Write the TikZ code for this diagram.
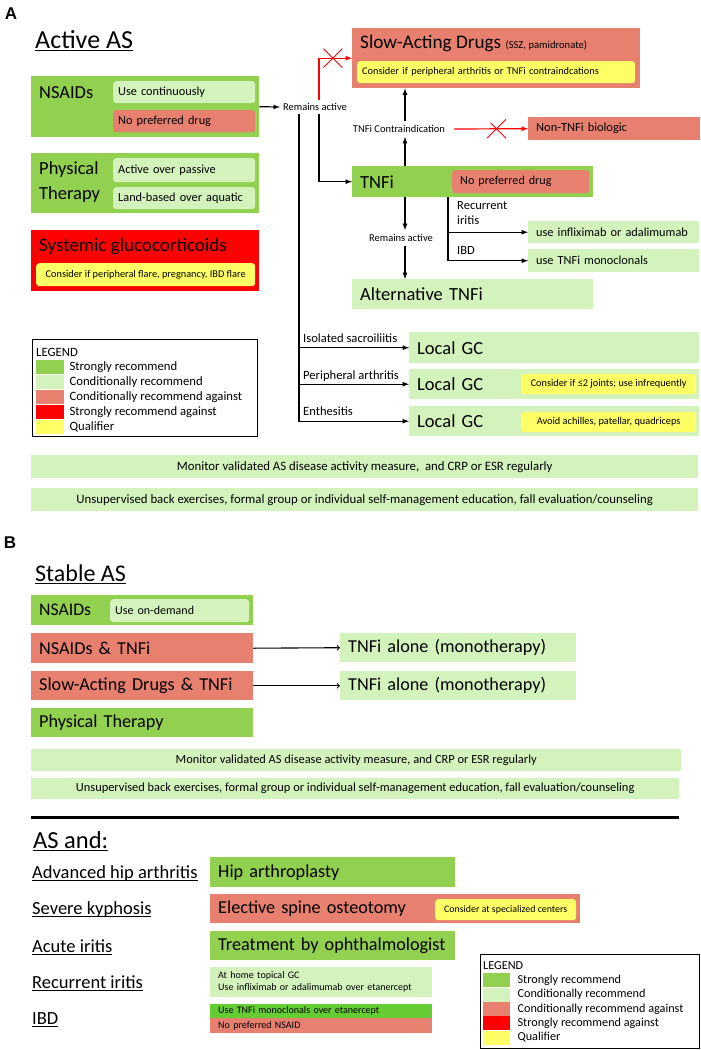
\documentclass[tikz,border=0pt]{standalone}
\usepackage{fontspec}
\usepackage{tikz}
\usetikzlibrary{positioning,shapes.misc}
\setmainfont{Carlito}
\newfontfamily\panelfont{Liberation Sans}
\newcommand{\fs}[2]{\fontsize{#1}{#2}\selectfont}
\newcommand{\uln}[1]{\leavevmode\setbox0\hbox{#1}\rlap{\rule[-3pt]{\wd0}{1.2pt}}\box0}
\definecolor{strongc}{RGB}{146,208,80}
\definecolor{condc}{RGB}{212,243,188}
\definecolor{againstc}{RGB}{232,128,112}
\definecolor{redc}{RGB}{255,0,0}
\definecolor{qualc}{RGB}{255,255,102}
\definecolor{ibdc}{RGB}{102,204,51}
\newcommand{\legendlist}{strongc/Strongly recommend, condc/Conditionally recommend, againstc/Conditionally recommend against, redc/Strongly recommend against, qualc/Qualifier}
\tikzset{
  box/.style={anchor=north west, inner xsep=8pt, inner ysep=0pt, align=left},
  sub/.style={anchor=north west, inner xsep=5pt, inner ysep=0pt, rounded corners=3pt, align=left},
  qual/.style={fill=qualc, rounded corners=3pt, anchor=north west, inner sep=0pt, font=\fs{10.3}{12}},
  strong/.style={fill=strongc},
  cond/.style={fill=condc},
  against/.style={fill=againstc},
  sagainst/.style={fill=redc},
  big/.style={font=\fs{18.5}{22}},
  mid/.style={font=\fs{18.2}{22}},
  small/.style={font=\fs{10.5}{12}},
  panel/.style={font=\panelfont\bfseries\fs{17}{20}, inner sep=0pt},
  arr/.style={-latex, line width=1.2pt},
  noarr/.style={-latex, draw=redc, line width=1.2pt},
  xmark/.style={cross out, draw=redc, line width=0.9pt, minimum width=18pt, minimum height=18pt, inner sep=0pt},
}

\begin{document}
\begin{tikzpicture}[x=1pt,y=-1pt]
\useasboundingbox (0,0) rectangle (701,1050);

% A: active AS
\node[panel] (pA) at (11,14) {A};
\node[anchor=base west, inner sep=0pt, font=\fs{26}{30}] (tA) at (35,48) {\uln{Active AS}};

\node[box, strong, minimum width=228pt, minimum height=61pt] (nsA) at (31,76) {};
\node[anchor=west, inner sep=0pt, font=\fs{18.4}{22}] (nsAt) at (39,93) {NSAIDs};
\node[sub, cond, text width=132pt, minimum height=22pt, font=\fs{12.3}{14}] (ucA) at (113,81) {Use continuously};
\node[sub, against, text width=132pt, minimum height=22pt, font=\fs{12.3}{14}] (npA) at (113,110) {No preferred drug};

\node[box, strong, minimum width=228pt, minimum height=60pt] (ptA) at (31,153) {};
\node[anchor=west, inner sep=0pt, align=left, font=\fs{18.5}{25}] (ptAt) at (39,182) {Physical\\Therapy};
\node[sub, cond, text width=132pt, minimum height=24pt, font=\fs{12.3}{14}] (apA) at (113,158) {Active over passive};
\node[sub, cond, text width=132pt, minimum height=22pt, font=\fs{12.3}{14}] (lbA) at (113,187) {Land-based over aquatic};

\node[box, sagainst, minimum width=228pt, minimum height=61pt] (sgA) at (31,230) {};
\node[anchor=west, inner sep=0pt, font=\fs{19}{22}] (sgAt) at (39,247) {Systemic glucocorticoids};
\node[qual, minimum width=219pt, minimum height=23pt] (sgAq) at (36,263) {Consider if peripheral flare, pregnancy, IBD flare};

\node[small, inner sep=3pt] (raA) at (315,107) {Remains active};
\draw[arr] (nsA.east) -- (raA.west);

\node[box, against, minimum width=288pt, minimum height=60pt] (sdA) at (352,28) {};
\node[anchor=west, inner sep=0pt, font=\fs{19.2}{23}] (sdAt) at (360,43) {Slow-Acting Drugs {\fs{10.6}{12}(SSZ, pamidronate)}};
\node[qual, inner xsep=5pt, text width=268pt, minimum height=22pt, align=left] (sdAq) at (357,61) {Consider if peripheral arthritis or TNFi contraindcations};

\node[box, strong, text width=225pt, minimum height=31pt, big] (tnA) at (352,166) {TNFi};
\node[sub, against, inner xsep=8pt, text width=121pt, minimum height=23pt, font=\fs{12.1}{14}] (tnAp) at (452,170) {No preferred drug};

\draw[noarr] ([xshift=4pt]raA.north) |- node[xmark, pos=0.71] (xA1) {} (sdA.west);
\draw[arr] ([xshift=4pt]raA.south) |- (tnA.west);

\node[small, inner sep=4pt] (ciA) at (399,129) {TNFi Contraindication};
\coordinate (tx) at (405,129);
\draw[arr] (tnA.north -| tx) -- (ciA.south -| tx);
\draw[arr] (ciA.north -| tx) -- (sdA.south -| tx);

\node[box, against, text width=156pt, minimum height=23pt, font=\fs{12.4}{15}] (ntA) at (528,117) {Non-TNFi biologic};
\draw[noarr, shorten <=5pt] (ciA.east) -- node[xmark, pos=0.6] (xA2) {} (ntA.west);

\node[small, inner sep=4pt] (raA2) at (401,238) {Remains active};
\node[box, cond, text width=225pt, minimum height=30pt, big] (alA) at (352,279) {Alternative TNFi};
\draw[arr] (tnA.south -| tx) -- (raA2.north -| tx);
\draw[arr] (raA2.south -| tx) -- (alA.north -| tx);

\coordinate (bx) at (448,197);
\node[box, cond, text width=155pt, minimum height=22pt, font=\fs{12.3}{14}] (ifA) at (528,221) {use infliximab or adalimumab};
\node[box, cond, text width=155pt, minimum height=23pt, font=\fs{12.3}{14}] (mcA) at (528,249) {use TNFi monoclonals};
\draw[arr] (bx) |- (mcA.west);
\draw[arr] (bx |- ifA.west) -- (ifA.west);
\node[anchor=west, inner sep=0pt, align=left, font=\fs{12.5}{15}] (riA) at (457,213) {Recurrent\\iritis};
\node[anchor=west, inner sep=0pt, font=\fs{12.5}{15}] (ibA) at (457,250) {IBD};

\node[box, cond, text width=274pt, minimum height=31pt, big] (gc1) at (409,332) {Local GC};
\node[box, cond, text width=274pt, minimum height=30pt, big] (gc2) at (409,369) {Local GC};
\node[box, cond, text width=274pt, minimum height=30pt, big] (gc3) at (409,406) {Local GC};
\node[qual, minimum width=175pt, minimum height=20pt] (gc2q) at (521,374) {Consider if ≤2 joints; use infrequently};
\node[qual, minimum width=175pt, minimum height=20pt] (gc3q) at (521,412) {Avoid achilles, patellar, quadriceps};

\coordinate (vt) at ([xshift=-16pt]raA.south);
\draw[arr] (vt) |- (gc3.west);
\draw[arr] (vt |- gc1.west) -- (gc1.west);
\draw[arr] (vt |- gc2.west) -- (gc2.west);
\node[anchor=west, inner sep=0pt, font=\fs{12.6}{15}] (isA) at (303,338) {Isolated sacroiliitis};
\node[anchor=west, inner sep=0pt, font=\fs{12.6}{15}] (paA) at (303,376) {Peripheral arthritis};
\node[anchor=west, inner sep=0pt, font=\fs{12.6}{15}] (enA) at (303,411) {Enthesitis};

\node[draw, line width=0.9pt, anchor=north west, minimum width=225pt, minimum height=97pt, inner sep=0pt] (lgA) at (32,339) {};
\node[anchor=west, inner sep=0pt, font=\fs{12.7}{15}] (lgAt) at (36,352) {LEGEND};
\foreach \c/\t [count=\i] in \legendlist {
  \node[fill=\c, anchor=west, minimum width=28pt, minimum height=14pt, inner sep=0pt] (swA\i) at (36,{352+15*\i}) {};
  \node[right=5pt of swA\i, inner sep=0pt, font=\fs{12.7}{15}] (ltA\i) {\t};
}

\node[box, cond, minimum width=667pt, minimum height=23pt, align=center, font=\fs{12.8}{15}] (moA) at (31,455) {Monitor validated AS disease activity measure,\ \ and CRP or ESR regularly};
\node[box, cond, minimum width=667pt, minimum height=23pt, align=center, font=\fs{12.8}{15}] (unA) at (31,488) {Unsupervised back exercises, formal group or individual self-management education, fall evaluation/counseling};

% B: stable AS
\node[panel] (pB) at (10,543) {B};
\node[anchor=base west, inner sep=0pt, font=\fs{24}{28}] (tB) at (35,581) {\uln{Stable AS}};
\node[box, strong, text width=206pt, minimum height=30pt, font=\fs{17.7}{21}] (nsB) at (31,595) {NSAIDs};
\node[sub, cond, text width=129pt, minimum height=23pt, font=\fs{12}{14}] (odB) at (110,599) {Use on-demand};
\node[box, against, text width=206pt, minimum height=30pt, mid] (ntB) at (31,633) {NSAIDs \& TNFi};
\node[box, against, text width=206pt, minimum height=29pt, mid] (saB) at (31,671) {Slow-Acting Drugs \& TNFi};
\node[box, strong, text width=206pt, minimum height=29pt, mid] (ptB) at (31,708) {Physical Therapy};
\node[box, cond, text width=220pt, minimum height=29pt, mid] (m1B) at (340,633) {TNFi alone (monotherapy)};
\node[box, cond, text width=220pt, minimum height=29pt, mid] (m2B) at (340,671) {TNFi alone (monotherapy)};
\draw[->, line width=1.1pt] (ntB.east) -- (m1B.west);
\draw[->, line width=1.1pt] (saB.east) -- (m2B.west);
\node[box, cond, minimum width=650pt, minimum height=22pt, align=center, font=\fs{12.4}{15}] (moB) at (31,749) {Monitor validated AS disease activity measure, and CRP or ESR regularly};
\node[box, cond, minimum width=648pt, minimum height=21pt, align=center, font=\fs{12.4}{15}] (unB) at (31,778) {Unsupervised back exercises, formal group or individual self-management education, fall evaluation/counseling};

\draw[line width=3pt] (31,817) -- (679,817);

% AS and
\node[anchor=base west, inner sep=0pt, font=\fs{24.5}{28}] (tC) at (33,848) {\uln{AS and:}};
\foreach \t/\y [count=\i] in {Advanced hip arthritis/872, Severe kyphosis/908, Acute iritis/946, Recurrent iritis/982, IBD/1018}
  \node[anchor=base west, inner sep=0pt, font=\fs{18.5}{22}] (cd\i) at (32,\y+6) {\uln{\t}};

\node[box, strong, text width=229pt, minimum height=30pt, mid] (hpC) at (210,857) {Hip arthroplasty};
\node[box, against, text width=354pt, minimum height=29pt, mid] (esC) at (210,894) {Elective spine osteotomy};
\node[qual, minimum width=141pt, minimum height=21pt, font=\fs{9.9}{12}] (esCq) at (435,899) {Consider at specialized centers};
\node[box, strong, text width=229pt, minimum height=29pt, mid] (opC) at (210,931) {Treatment by ophthalmologist};
\node[box, cond, text width=206pt, minimum height=30pt, font=\fs{10}{12}] (riC) at (210,967) {At home topical GC\\Use infliximab or adalimumab over etanercept};
\node[box, fill=ibdc, text width=206pt, minimum height=14pt, font=\fs{10}{12}] (ibC1) at (210,1004) {Use TNFi monoclonals over etanercept};
\node[box, against, text width=206pt, minimum height=15pt, font=\fs{10}{12}] (ibC2) at (210,1018) {No preferred NSAID};

\node[draw, line width=0.9pt, anchor=north west, minimum width=219pt, minimum height=94pt, inner sep=0pt] (lgB) at (480,954) {};
\node[anchor=west, inner sep=0pt, font=\fs{12.2}{14}] (lgBt) at (483,966) {LEGEND};
\foreach \c/\t [count=\i] in \legendlist {
  \node[fill=\c, anchor=west, minimum width=27pt, minimum height=14pt, inner sep=0pt] (swB\i) at (483,{966+14.3*\i}) {};
  \node[right=7pt of swB\i, inner sep=0pt, font=\fs{12.2}{14}] (ltB\i) {\t};
}
\end{tikzpicture}
\end{document}
